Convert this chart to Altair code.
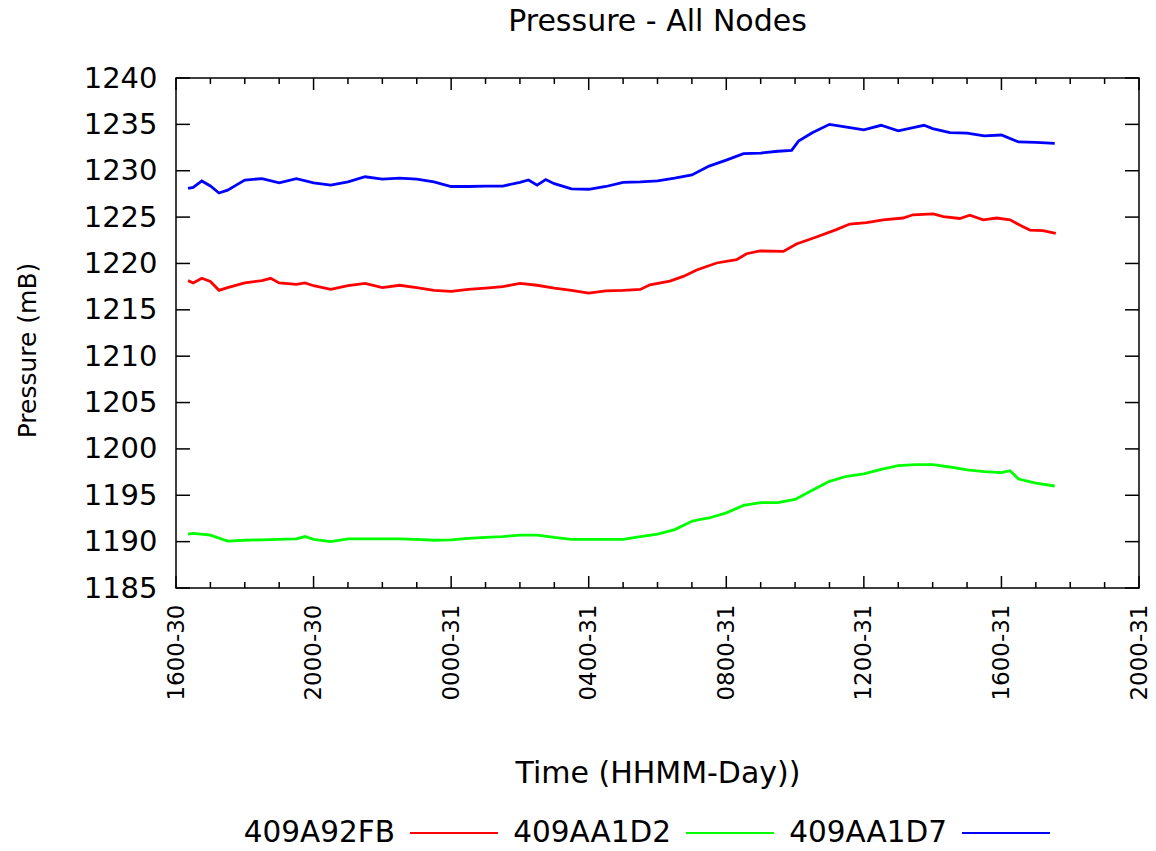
import altair as alt
import pandas as pd

# ---------------- data ----------------
names = ["409A92FB", "409AA1D2", "409AA1D7"]
colors = ["#ff0000", "#00ff00", "#0000ff"]

# hours after 1600-30
red_h = [0.35, 0.5, 0.75, 1.0, 1.25, 1.5, 2.0, 2.5, 2.75, 3.0,
         3.5, 3.75, 4.0, 4.5, 5.0, 5.5, 6.0, 6.5, 7.0, 7.5,
         8.0, 8.5, 9.0, 9.5, 10.0, 10.5, 11.0, 11.5, 12.0, 12.5,
         13.0, 13.5,
         13.78, 14.36, 14.75, 15.14, 15.72, 16.3, 16.59, 16.98, 17.66, 18.04,
         18.62, 19.2, 19.59, 20.08, 20.56, 21.14, 21.43, 22.02, 22.31, 22.79,
         23.08, 23.47, 23.86, 24.25, 24.63, 24.83, 25.21, 25.58]
red_p = [1218.15, 1217.9, 1218.4, 1218.05, 1217.1, 1217.4, 1217.9, 1218.15, 1218.4, 1217.9,
         1217.75, 1217.9, 1217.6, 1217.2, 1217.6, 1217.85, 1217.4, 1217.65, 1217.4, 1217.1,
         1217.0, 1217.2, 1217.35, 1217.5, 1217.85, 1217.65, 1217.35, 1217.1, 1216.8, 1217.05,
         1217.1, 1217.2,
         1217.7, 1218.1, 1218.6, 1219.3, 1220.05, 1220.4, 1221.05, 1221.35, 1221.3, 1222.1,
         1222.85, 1223.65, 1224.25, 1224.4, 1224.7, 1224.9, 1225.25, 1225.35, 1225.05, 1224.85,
         1225.2, 1224.7, 1224.9, 1224.7, 1223.95, 1223.6, 1223.55, 1223.25]

green_h = [0.35, 0.5, 1.0, 1.5, 2.0, 2.5, 3.0, 3.5, 3.75, 4.0,
           4.5, 5.0, 5.5, 6.0, 6.5, 7.0, 7.5, 8.0, 8.5, 9.0,
           9.5, 10.0, 10.5, 11.0, 11.5, 12.0, 12.5, 13.0, 13.5, 14.0,
           14.5, 15.0, 15.25, 15.5, 16.0, 16.5, 17.0, 17.5, 18.0, 18.5,
           19.0, 19.5, 20.0, 20.5, 21.0, 21.5, 22.0, 22.5, 23.0, 23.5,
           24.0, 24.25, 24.5, 25.0, 25.55]
green_p = [1190.8, 1190.9, 1190.7, 1190.05, 1190.15, 1190.2, 1190.25, 1190.3, 1190.55, 1190.25,
           1190.0, 1190.3, 1190.3, 1190.3, 1190.3, 1190.25, 1190.15, 1190.2, 1190.35, 1190.45,
           1190.55, 1190.7, 1190.7, 1190.45, 1190.25, 1190.25, 1190.25, 1190.25, 1190.55, 1190.8,
           1191.3, 1192.2, 1192.4, 1192.55, 1193.1, 1193.9, 1194.2, 1194.2, 1194.55, 1195.55,
           1196.5, 1197.05, 1197.3, 1197.8, 1198.2, 1198.3, 1198.3, 1198.05, 1197.75, 1197.55,
           1197.45, 1197.65, 1196.75, 1196.3, 1196.0]

blue_h = [0.35, 0.5, 0.75, 1.0, 1.25, 1.5, 1.75, 2.0, 2.5, 3.0,
          3.5, 4.0, 4.5, 5.0, 5.5, 6.0, 6.5, 7.0, 7.5, 8.0,
          8.5, 9.0, 9.5, 10.0, 10.25, 10.5, 10.75, 11.0, 11.5, 12.0,
          12.5, 13.0, 13.5, 14.0, 14.5, 15.0, 15.5, 16.0, 16.5, 17.0,
          17.5, 17.9, 18.1, 18.5, 19.0, 19.5, 20.0, 20.5, 21.0, 21.5,
          21.75, 22.0, 22.5, 23.0, 23.5, 24.0, 24.5, 25.0, 25.55]
blue_p = [1228.1, 1228.2, 1228.9, 1228.35, 1227.6, 1227.9, 1228.45, 1229.0, 1229.15, 1228.7,
          1229.15, 1228.7, 1228.45, 1228.8, 1229.35, 1229.1, 1229.2, 1229.1, 1228.8, 1228.3,
          1228.3, 1228.35, 1228.35, 1228.75, 1229.0, 1228.45, 1229.05, 1228.6, 1228.05, 1228.0,
          1228.3, 1228.75, 1228.8, 1228.9, 1229.2, 1229.55, 1230.5, 1231.15, 1231.85, 1231.9,
          1232.1, 1232.2, 1233.2, 1234.1, 1235.0, 1234.7, 1234.4, 1234.9, 1234.3, 1234.7,
          1234.9, 1234.55, 1234.1, 1234.05, 1233.75, 1233.85, 1233.1, 1233.05, 1232.95]

y_ticks = [1185, 1190, 1195, 1200, 1205, 1210, 1215, 1220, 1225, 1230, 1235, 1240]
major_hours = [0, 4, 8, 12, 16, 20, 24, 28]
minor_hours = [h for h in range(0, 29) if h % 4 != 0]

# ---------------- helpers ----------------
START = pd.Timestamp("2020-01-30 16:00")


def iso(h):
    return (START + pd.Timedelta(hours=h)).strftime("%Y-%m-%dT%H:%M:%S")


def dt(h):
    ts = START + pd.Timedelta(hours=h)
    return alt.DateTime(year=ts.year, month=ts.month, date=ts.day, hours=ts.hour)


rows = []
for name, hrs, vals in zip(names, [red_h, green_h, blue_h], [red_p, green_p, blue_p]):
    for h, v in zip(hrs, vals):
        rows.append({"t": iso(h), "p": v, "node": name})
df = pd.DataFrame(rows)

df_major = pd.DataFrame({"t": [iso(h) for h in major_hours]})
df_minor = pd.DataFrame({"t": [iso(h) for h in minor_hours]})
df_y = pd.DataFrame({"p": y_ticks})
df_one = pd.DataFrame({"k": [0]})

W, H = 963, 510
FONT = "DejaVu Sans"

xscale = alt.Scale(domain=[dt(0), dt(28)])
yscale = alt.Scale(domain=[1185, 1240], nice=False, zero=False)

xaxis = alt.Axis(values=[dt(h) for h in major_hours], format="%H%M-%d",
                 labelAngle=270, labelAlign="right", labelBaseline="middle",
                 labelFontSize=23, labelPadding=16, labelColor="black",
                 labelFlush=False, labelOverlap=False,
                 ticks=False, tickSize=0, domain=False, grid=False,
                 title="Time (HHMM-Day))", titleFontSize=30, titleFontWeight="normal",
                 titleColor="black", titleX=W / 2, titleY=185,
                 titleBaseline="middle", titleAlign="center")
yaxis = alt.Axis(values=y_ticks, format="d", labelFontSize=29, labelPadding=19,
                 labelColor="black", labelFlush=False, labelOverlap=False,
                 ticks=False, tickSize=0, domain=False, grid=False,
                 title="Pressure (mB)", titleFontSize=25, titleFontWeight="normal",
                 titleColor="black", titleAngle=270, titleX=-149, titleY=272,
                 titleBaseline="middle", titleAlign="center")


def X():
    return alt.X("t:T", scale=xscale, axis=xaxis)


def Y():
    return alt.Y("p:Q", scale=yscale, axis=yaxis)


lines = alt.Chart(df).mark_line(strokeWidth=2.8).encode(
    x=X(), y=Y(),
    color=alt.Color("node:N", scale=alt.Scale(domain=names, range=colors), legend=None),
)

tick_style = dict(color="black", strokeWidth=1.5)
layers = [lines]
for data, size in [(df_major, 12), (df_minor, 6)]:
    layers.append(alt.Chart(data).mark_rule(**tick_style).encode(
        x=X(), y=alt.value(H), y2=alt.value(H - size)))
    layers.append(alt.Chart(data).mark_rule(**tick_style).encode(
        x=X(), y=alt.value(0), y2=alt.value(size)))
layers.append(alt.Chart(df_y).mark_rule(**tick_style).encode(
    y=Y(), x=alt.value(0), x2=alt.value(14)))
layers.append(alt.Chart(df_y).mark_rule(**tick_style).encode(
    y=Y(), x=alt.value(W - 14), x2=alt.value(W)))

# gnuplot-style key below the plot: label followed by a line sample
LEG_Y = 755
for i, (name, col) in enumerate(zip(names, colors)):
    x_text = 219 + i * 276
    layers.append(alt.Chart(df_one).mark_text(
        text=name, align="right", baseline="middle", fontSize=29.5, color="black", font=FONT
    ).encode(x=alt.value(x_text), y=alt.value(LEG_Y)))
    layers.append(alt.Chart(df_one).mark_rule(color=col, strokeWidth=2).encode(
        x=alt.value(x_text + 15), x2=alt.value(x_text + 103), y=alt.value(LEG_Y)))

chart = alt.layer(*layers).properties(
    width=W, height=H,
    title=alt.TitleParams("Pressure - All Nodes", fontSize=30, fontWeight="normal",
                          color="black", anchor="middle", baseline="middle", offset=12),
    autosize=alt.AutoSizeParams(type="none"),
    padding={"left": 176, "top": 78, "right": 17, "bottom": 263},
    background="white",
).configure(font=FONT).configure_view(stroke="black", strokeWidth=1.5)

chart.save("out.html", embed_options={"renderer": "svg", "actions": False})
